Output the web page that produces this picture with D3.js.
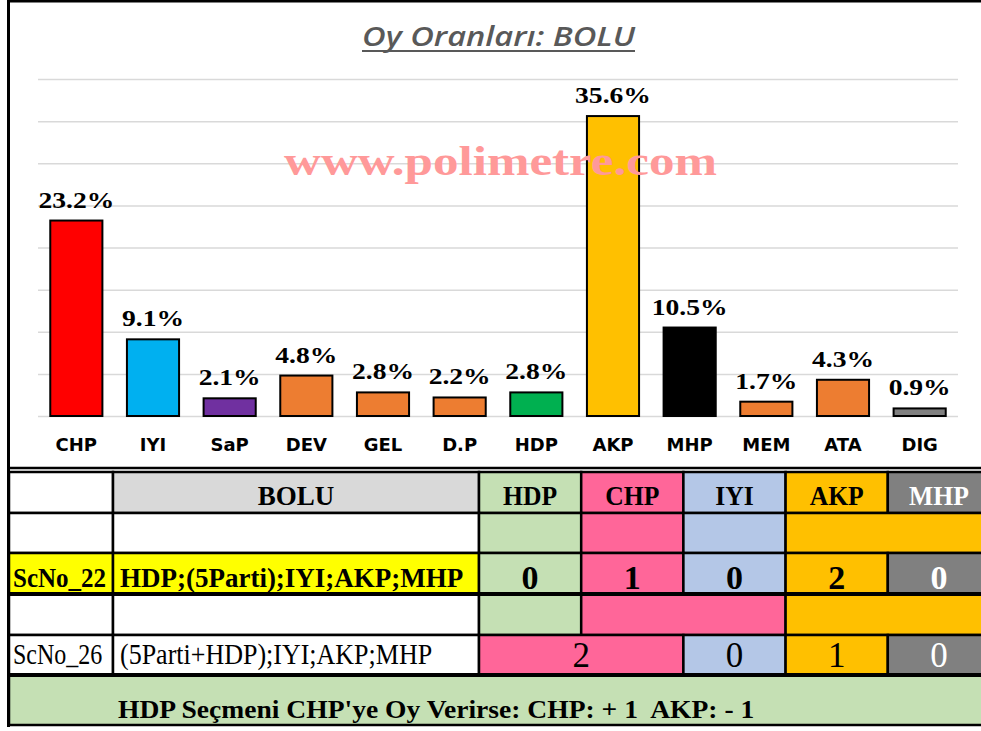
<html>
<head>
  <meta charset="utf-8">
  <title>Oy Oranları: BOLU</title>
  <script src="https://cdn.jsdelivr.net/npm/d3@7"></script>
  <style>
    body { margin: 0; background: #fff; }
    text { white-space: pre; }
  </style>
</head>
<body>
  <script>
    // Width og height
    const w = 981;
    const h = 731;

    // Bar data
    const categories = ["CHP", "IYI", "SaP", "DEV", "GEL", "D.P", "HDP", "AKP", "MHP", "MEM", "ATA", "DIG"];
    const values = [23.2, 9.1, 2.1, 4.8, 2.8, 2.2, 2.8, 35.6, 10.5, 1.7, 4.3, 0.9];
    const gridTicks = [0, 5, 10, 15, 20, 25, 30, 35, 40];

    // Table data (første parti i en gruppe giver farven)
    const tableParties = ["HDP", "CHP", "IYI", "AKP", "MHP"];
    const scenarioNames = ["ScNo_22", "ScNo_26"];
    const scenarioTexts = ["HDP;(5Parti);IYI;AKP;MHP", "(5Parti+HDP);IYI;AKP;MHP"];
    const alliance22 = [["HDP"], ["CHP"], ["IYI"], ["AKP", "MHP"]];
    const seats22 = [0, 1, 0, 2, 0];
    const alliance26 = [["HDP"], ["CHP", "IYI"], ["AKP", "MHP"]];
    const groups26 = [["CHP", "HDP"], ["IYI"], ["AKP"], ["MHP"]];
    const seats26 = [2, 0, 1, 0];
    const footerText = "HDP Seçmeni CHP'ye Oy Verirse: CHP: + 1  AKP: - 1";

    // Farver
    const barColor = {
      CHP: "#ff0000", IYI: "#00b0f0", SaP: "#7030a0", DEV: "#ed7d31", GEL: "#ed7d31",
      "D.P": "#ed7d31", HDP: "#00b050", AKP: "#ffc000", MHP: "#000000", MEM: "#ed7d31",
      ATA: "#ed7d31", DIG: "#808080"
    };
    const cellColor = { HDP: "#c5e0b4", CHP: "#ff6699", IYI: "#b4c7e7", AKP: "#ffc000", MHP: "#808080" };
    const serif = "'Liberation Serif', 'Times New Roman', serif";

    const svg = d3.select("body").append("svg")
      .attr("width", w)
      .attr("height", h);

    svg.append("rect").attr("width", w).attr("height", h).attr("fill", "#fff");

    // Scales
    const x = d3.scaleBand()
      .domain(categories)
      .range([38, 958])
      .paddingInner(0.32)
      .paddingOuter(0.16);

    const y = d3.scaleLinear()
      .domain([0, 40])
      .range([416, 79]);

    // hjælper til tekst med strækning
    function txt(g, tx, ty, s, o) {
      return g.append("text")
        .attr("transform", "translate(" + tx + "," + ty + ") scale(" + (o.sx || 1) + "," + (o.sy || 1) + ")")
        .attr("text-anchor", o.anchor || "middle")
        .attr("fill", o.fill || "#000")
        .style("font-family", o.family || serif)
        .style("font-size", o.size + "px")
        .style("font-weight", o.weight || "normal")
        .text(s);
    }

    // Gridlines
    const grid = svg.append("g")
      .attr("transform", "translate(38,0)")
      .call(d3.axisLeft(y).tickValues(gridTicks).tickSize(-920).tickFormat(""));
    grid.select(".domain").remove();
    grid.selectAll("line").attr("stroke", "#d9d9d9").attr("stroke-width", 1.5);

    // Title
    svg.append("text")
      .attr("x", 362)
      .attr("y", 46)
      .attr("textLength", 273)
      .attr("lengthAdjust", "spacingAndGlyphs")
      .attr("fill", "#595959")
      .style("font-family", "'Open Sans', sans-serif")
      .style("font-style", "italic")
      .style("font-weight", 600)
      .style("font-size", "27px")
      .text("Oy Oranları: BOLU");
    svg.append("line")
      .attr("x1", 362).attr("x2", 635)
      .attr("y1", 51).attr("y2", 51)
      .attr("stroke", "#595959").attr("stroke-width", 2);

    // Bars
    svg.selectAll("rect.bar")
      .data(values)
      .enter()
      .append("rect")
      .attr("class", "bar")
      .attr("x", (d, i) => x(categories[i]))
      .attr("y", d => y(d))
      .attr("width", x.bandwidth())
      .attr("height", d => y(0) - y(d))
      .attr("fill", (d, i) => barColor[categories[i]])
      .attr("stroke", "#000")
      .attr("stroke-width", 2);

    // Watermark
    svg.append("text")
      .attr("x", 284)
      .attr("y", 175)
      .attr("textLength", 433)
      .attr("lengthAdjust", "spacingAndGlyphs")
      .attr("fill", "#ff9999")
      .style("font-family", serif)
      .style("font-weight", "bold")
      .style("font-size", "42px")
      .text("www.polimetre.com");

    // Value labels
    const labels = svg.append("g");
    values.forEach((v, i) => {
      txt(labels, x(categories[i]) + x.bandwidth() / 2, y(v) - 13, v.toFixed(1) + "%",
        { size: 23, weight: "bold", sx: 1.2 });
    });

    // x-akse
    const xAxis = svg.append("g")
      .attr("transform", "translate(0,416)")
      .call(d3.axisBottom(x).tickSize(0).tickPadding(22));
    xAxis.select(".domain").remove();
    xAxis.selectAll("text")
      .attr("fill", "#000")
      .style("font-family", "'DejaVu Sans', sans-serif")
      .style("font-weight", "bold")
      .style("font-size", "18px");

    // Chart frame
    svg.append("line").attr("x1", 8).attr("x2", w).attr("y1", 1).attr("y2", 1)
      .attr("stroke", "#000").attr("stroke-width", 3);
    svg.append("line").attr("x1", 8).attr("x2", w).attr("y1", 468).attr("y2", 468)
      .attr("stroke", "#000").attr("stroke-width", 2.5);

    // Table
    const tx = d3.scaleBand().domain(tableParties).range([479, 990]);
    const rows = [472, 513, 553, 594, 635, 675, 725];
    const c0 = [9, 113];
    const c1 = [113, 479];
    const table = svg.append("g");

    function cell(x0, x1, y0, y1, fill) {
      table.append("rect")
        .attr("x", x0).attr("y", y0)
        .attr("width", x1 - x0).attr("height", y1 - y0)
        .attr("fill", fill)
        .attr("stroke", "#000")
        .attr("stroke-width", 2.5);
    }
    function groupSpan(g) {
      return [d3.min(g, p => tx(p)), d3.max(g, p => tx(p)) + tx.bandwidth()];
    }

    // header
    cell(c0[0], c0[1], rows[0], rows[1], "#fff");
    cell(c1[0], c1[1], rows[0], rows[1], "#d9d9d9");
    txt(table, (c1[0] + c1[1]) / 2, 505, "BOLU", { size: 27, weight: "bold" });
    tableParties.forEach(p => {
      cell(tx(p), tx(p) + tx.bandwidth(), rows[0], rows[1], cellColor[p]);
      txt(table, tx(p) + tx.bandwidth() / 2, 505, p,
        { size: 27, weight: "bold", sx: 0.95, fill: p === "MHP" ? "#fff" : "#000" });
    });

    // alliance row 22
    cell(c0[0], c0[1], rows[1], rows[2], "#fff");
    cell(c1[0], c1[1], rows[1], rows[2], "#fff");
    alliance22.forEach(g => {
      const s = groupSpan(g);
      cell(s[0], s[1], rows[1], rows[2], cellColor[g[0]]);
    });

    // ScNo_22
    cell(c0[0], c0[1], rows[2], rows[3], "#ffff00");
    cell(c1[0], c1[1], rows[2], rows[3], "#ffff00");
    txt(table, 13, 587, scenarioNames[0], { size: 25, weight: "bold", anchor: "start", sy: 1.1 });
    txt(table, 120, 587, scenarioTexts[0], { size: 27, weight: "bold", anchor: "start", sy: 1.05 });
    tableParties.forEach((p, i) => {
      cell(tx(p), tx(p) + tx.bandwidth(), rows[2], rows[3], cellColor[p]);
      txt(table, tx(p) + tx.bandwidth() / 2, 589, String(seats22[i]),
        { size: 34, weight: "bold", fill: p === "MHP" ? "#fff" : "#000" });
    });

    // alliance row 26
    cell(c0[0], c0[1], rows[3], rows[4], "#fff");
    cell(c1[0], c1[1], rows[3], rows[4], "#fff");
    alliance26.forEach(g => {
      const s = groupSpan(g);
      cell(s[0], s[1], rows[3], rows[4], cellColor[g[0]]);
    });

    // ScNo_26
    cell(c0[0], c0[1], rows[4], rows[5], "#fff");
    cell(c1[0], c1[1], rows[4], rows[5], "#fff");
    txt(table, 13, 664, scenarioNames[1], { size: 24, anchor: "start", sy: 1.2 });
    txt(table, 120, 664, scenarioTexts[1], { size: 26, anchor: "start", sy: 1.12 });
    groups26.forEach((g, i) => {
      const s = groupSpan(g);
      cell(s[0], s[1], rows[4], rows[5], cellColor[g[0]]);
      txt(table, (s[0] + s[1]) / 2, 667, String(seats26[i]),
        { size: 35, sy: 1.05, fill: g[0] === "MHP" ? "#fff" : "#000" });
    });

    // footer
    cell(c0[0], 990, rows[5], rows[6], "#c5e0b4");
    txt(table, 118, 718, footerText, { size: 26, weight: "bold", anchor: "start", sx: 1.06 });

    // tykke linjer
    [rows[3], rows[5]].forEach(r => {
      table.append("line").attr("x1", c0[0]).attr("x2", w).attr("y1", r).attr("y2", r)
        .attr("stroke", "#000").attr("stroke-width", 4);
    });

    // venstre kant
    svg.append("line").attr("x1", 8.5).attr("x2", 8.5).attr("y1", 0).attr("y2", 727)
      .attr("stroke", "#000").attr("stroke-width", 3);
  </script>
</body>
</html>
